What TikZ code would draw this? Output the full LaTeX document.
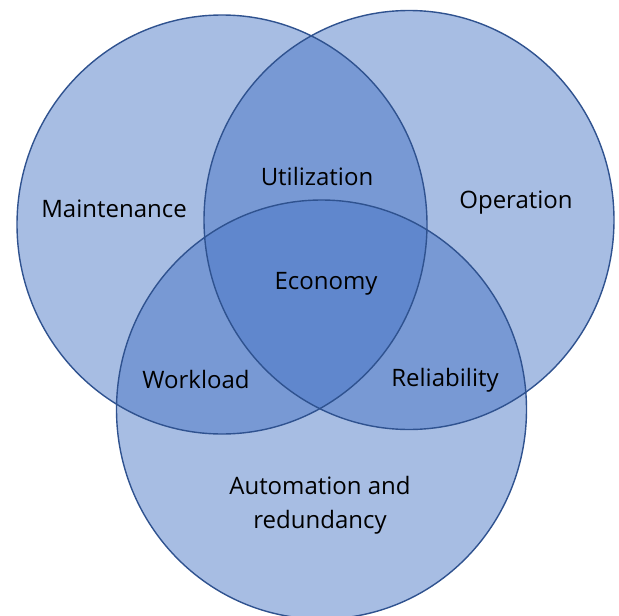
\documentclass[tikz,border=0pt]{standalone}
\usepackage{fontspec}
\setmainfont{Open Sans}
\definecolor{vennblue}{HTML}{4472C4}
\definecolor{vennline}{HTML}{2F528F}
\tikzset{
  venn fill/.style={fill=vennblue, fill opacity=0.47},
  venn line/.style={draw=vennline, line width=1.4pt},
  venntext/.style={anchor=base, font=\fontsize{24}{34}\selectfont, text=black}
}
\begin{document}
\begin{tikzpicture}[x=1pt, y=-1pt]
  \def\rx{205pt}
  \def\ry{209.5pt}
  \useasboundingbox (0,0) rectangle (619,616);
  \coordinate (maint) at (222,224.5);
  \coordinate (oper) at (409,220);
  \coordinate (auto) at (321.5,409.5);
  \foreach \c in {maint, oper, auto} {
    \fill[venn fill] (\c) ellipse [x radius=\rx, y radius=\ry];
  }
  \foreach \c in {maint, oper, auto} {
    \draw[venn line] (\c) ellipse [x radius=\rx, y radius=\ry];
  }
  \node[venntext] (maintenance) at (114,217) {Maintenance};
  \node[venntext] (operation) at (516,208) {Operation};
  \node[venntext] (utilization) at (317,185) {Utilization};
  \node[venntext] (economy) at (326,289) {Economy};
  \node[venntext] (workload) at (196,388) {Workload};
  \node[venntext] (reliability) at (445,386) {Reliability};
  \node[venntext, align=center] (automation) at (320,528) {Automation and\\redundancy};
\end{tikzpicture}
\end{document}
